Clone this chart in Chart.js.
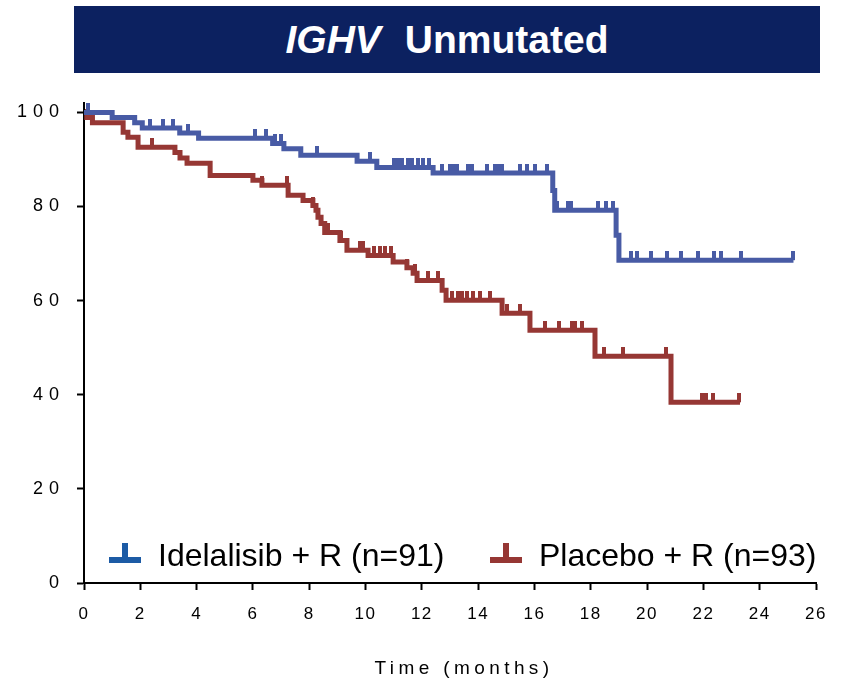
<!DOCTYPE html>
<html>
<head>
<meta charset="utf-8">
<script src="https://cdn.jsdelivr.net/npm/chart.js@4.4.0/dist/chart.umd.min.js"></script>
<style>
  body { margin: 0; background: #fff; }
  #wrap { position: relative; width: 842px; height: 680px; }
  #kmChart { position: absolute; left: 0; top: 0; }
  #title {
    position: absolute; left: 74px; top: 6px; width: 746px; height: 67px;
    background: #0c2160; color: #fff; text-align: center;
    font: bold 39px "Liberation Sans", Arial, sans-serif;
    line-height: 67px;
  }
</style>
</head>
<body>
<div id="wrap">
  <canvas id="kmChart" width="842" height="680"></canvas>
  <div id="title"><i>IGHV</i><span style="margin-left: 24px">Unmutated</span></div>
</div>
<script>
// tick labels
const xTicks = [0, 2, 4, 6, 8, 10, 12, 14, 16, 18, 20, 22, 24, 26];
const yTicks = [0, 20, 40, 60, 80, 100];
const seriesLabels = ['Idelalisib + R (n=91)', 'Placebo + R (n=93)'];

// Idelalisib + R: step start times (months) and survival (%)
const ideTimes = [0, 1.0, 1.8, 2.07, 3.4, 4.07, 6.7, 7.1, 7.7, 9.7, 10.4, 12.4, 16.65, 16.72, 18.9, 19.0, 25.2];
const ideSurv = [100, 98.9, 97.8, 96.7, 95.6, 94.5, 93.4, 92.3, 90.9, 89.6, 88.3, 87.1, 83.4, 79.2, 73.9, 68.6, 68.6];
const ideCensor = [0.15, 2.34, 2.81, 3.16, 3.7, 6.07, 6.45, 6.8, 7.0, 8.28, 10.16, 11.0, 11.15, 11.3, 11.5,
  11.65, 11.85, 12.05, 12.25, 12.72, 13.0, 13.07, 13.18, 13.25, 13.64, 13.78, 14.32, 14.6, 14.71, 14.85,
  15.49, 15.74, 16.02, 16.45, 16.8, 17.19, 17.3, 18.26, 18.54, 18.79, 19.43, 19.64, 20.14, 20.71, 21.21,
  21.81, 22.38, 22.63, 23.34, 25.19];

// Placebo + R
const plaTimes = [0, 0.1, 0.3, 1.39, 1.56, 1.92, 3.23, 3.41, 3.66, 4.48, 6.0, 6.32, 7.25, 7.78, 8.13, 8.24,
  8.31, 8.42, 8.55, 9.09, 9.34, 10.09, 10.98, 11.47, 11.69, 11.83, 12.72, 12.86, 14.85, 15.84, 18.15, 20.85, 23.3];
const plaSurv = [100, 98.9, 97.8, 95.8, 94.7, 92.6, 91.5, 90.3, 89.2, 86.6, 85.6, 84.5, 82.4, 81.3, 80.2, 79.2,
  77.7, 76.4, 74.5, 72.8, 70.7, 69.6, 68.2, 67.0, 65.8, 64.3, 62.2, 60.1, 57.3, 53.7, 48.2, 38.4, 38.4];
const plaCensor = [0.1, 2.42, 6.32, 7.2, 8.13, 8.67, 9.13, 9.8, 9.9, 10.3, 10.5, 10.7, 10.9, 11.47, 11.76,
  12.22, 12.58, 13.07, 13.29, 13.43, 13.6, 13.82, 14.07, 14.42, 15.03, 15.49, 16.38, 16.87, 17.34, 17.44,
  17.69, 18.47, 19.15, 20.67, 21.95, 22.1, 22.35, 23.27];

const ideColor = '#485ba5';
const plaColor = '#963734';
const ideLegendColor = '#1c5ba5';

function levelAt(times, surv, t) {
    let v = surv[0];
    for (let i = 0; i < times.length; i++) {
        if (times[i] <= t) v = surv[i];
    }
    return v;
}

function curvePoints(times, surv) {
    return times.map((t, i) => ({ x: t, y: surv[i] }));
}

function censorPoints(times, surv, censor) {
    return censor.map(t => ({ x: t, y: levelAt(times, surv, t) }));
}

// small upward tick used as censor mark
function makeTick(color) {
    const c = document.createElement('canvas');
    c.width = 4;
    c.height = 18;
    const g = c.getContext('2d');
    g.fillStyle = color;
    g.fillRect(0, 0, 4, 9);
    return c;
}

function spaceOut(scale, labelSpacing, titleSpacing, titleShift) {
    if (scale._spaced) return;
    const drawLabels = scale.drawLabels;
    scale.drawLabels = function(area) {
        const c = this.ctx;
        c.save();
        c.letterSpacing = labelSpacing;
        drawLabels.call(this, area);
        c.restore();
    };
    const drawTitle = scale.drawTitle;
    scale.drawTitle = function() {
        const c = this.ctx;
        c.save();
        c.letterSpacing = titleSpacing;
        c.translate(titleShift, 0);
        drawTitle.call(this);
        c.restore();
    };
    scale._spaced = true;
}

const letterSpacingPlugin = {
    id: 'letterSpacing',
    beforeDraw(chart) {
        spaceOut(chart.scales.y, '6px', '0px', 0);
        spaceOut(chart.scales.x, '1.5px', '4.4px', 14);
    }
};

// legend drawn inside the plot area, bottom
const kmLegend = {
    id: 'kmLegend',
    afterDraw(chart) {
        const ctx = chart.ctx;
        const a = chart.chartArea;
        const items = [
            { label: seriesLabels[0], color: ideLegendColor, x: a.left + 25 },
            { label: seriesLabels[1], color: plaColor, x: a.left + 406 }
        ];
        ctx.save();
        ctx.letterSpacing = '0px';
        ctx.font = '32px "Liberation Sans", Arial, sans-serif';
        ctx.textBaseline = 'alphabetic';
        items.forEach(it => {
            ctx.fillStyle = it.color;
            ctx.fillRect(it.x, a.bottom - 26, 32, 6);
            ctx.fillRect(it.x + 13, a.bottom - 40, 6, 14);
            ctx.fillStyle = '#000';
            ctx.fillText(it.label, it.x + 49, a.bottom - 17);
        });
        ctx.restore();
    }
};

const ctx = document.getElementById('kmChart').getContext('2d');

// Chart.js 'before' = hold the previous value, then drop at the next time
new Chart(ctx, {
    type: 'line',
    data: {
        datasets: [
            {
                label: seriesLabels[0],
                data: curvePoints(ideTimes, ideSurv),
                borderColor: ideColor,
                borderWidth: 5,
                stepped: 'before',
                pointRadius: 0,
                fill: false,
                borderJoinStyle: 'miter'
            },
            {
                label: 'censor1',
                data: censorPoints(ideTimes, ideSurv, ideCensor),
                showLine: false,
                pointStyle: makeTick(ideColor),
                pointRadius: 4
            },
            {
                label: seriesLabels[1],
                data: curvePoints(plaTimes, plaSurv),
                borderColor: plaColor,
                borderWidth: 5,
                stepped: 'before',
                pointRadius: 0,
                fill: false,
                borderJoinStyle: 'miter'
            },
            {
                label: 'censor2',
                data: censorPoints(plaTimes, plaSurv, plaCensor),
                showLine: false,
                pointStyle: makeTick(plaColor),
                pointRadius: 4
            }
        ]
    },
    options: {
        responsive: false,
        animation: false,
        layout: {
            padding: { top: 103, right: 26, bottom: 0, left: 0 }
        },
        plugins: {
            legend: { display: false },
            tooltip: { enabled: false }
        },
        scales: {
            x: {
                type: 'linear',
                min: 0,
                max: 26,
                afterBuildTicks: function(scale) {
                    scale.ticks = xTicks.map(v => ({ value: v }));
                },
                afterFit: function(scale) {
                    scale.height = 97;
                },
                ticks: {
                    color: '#000',
                    padding: 14,
                    maxRotation: 0,
                    font: { family: '"Liberation Sans", Arial, sans-serif', size: 17 }
                },
                grid: {
                    drawOnChartArea: false,
                    drawTicks: true,
                    tickLength: 7,
                    tickWidth: 2,
                    tickColor: '#000'
                },
                border: { display: true, color: '#000', width: 2 },
                title: {
                    display: true,
                    text: 'Time (months)',
                    color: '#000',
                    padding: { top: 0, bottom: 0 },
                    font: { family: '"Liberation Sans", Arial, sans-serif', size: 19 }
                }
            },
            y: {
                min: 0,
                max: 102,
                afterBuildTicks: function(scale) {
                    scale.ticks = yTicks.map(v => ({ value: v }));
                },
                afterFit: function(scale) {
                    scale.width = 84;
                },
                ticks: {
                    color: '#000',
                    padding: 12,
                    font: { family: '"Liberation Sans", Arial, sans-serif', size: 18 }
                },
                grid: {
                    drawOnChartArea: false,
                    drawTicks: true,
                    tickLength: 7,
                    tickWidth: 2,
                    tickColor: '#000'
                },
                border: { display: true, color: '#000', width: 2 }
            }
        }
    },
    plugins: [letterSpacingPlugin, kmLegend]
});
</script>
</body>
</html>
